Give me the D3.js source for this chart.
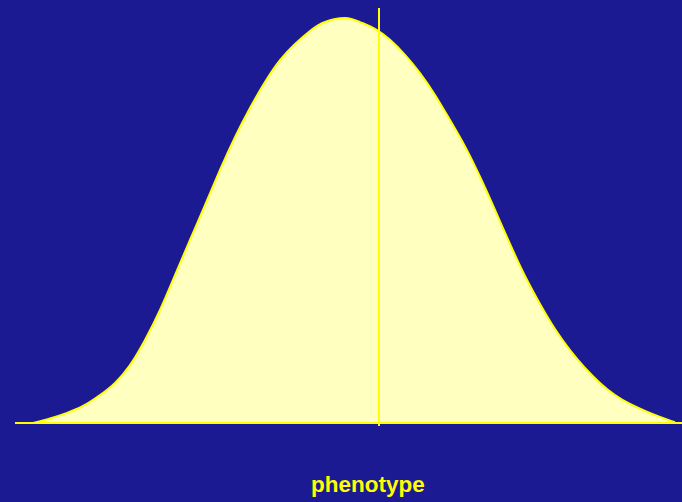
<!DOCTYPE html>
<html>
<head>
  <meta charset="utf-8">
  <title>phenotype</title>
  <style>
    body { margin: 0; background: #1b1a93; }
    .label {
      font-family: "Liberation Sans", Arial, sans-serif;
      font-weight: bold;
      font-size: 22.5px;
      fill: #ffff00;
      text-anchor: middle;
    }
  </style>
  <script src="https://d3js.org/d3.v7.min.js"></script>
</head>
<body>
  <script>
    // phenotype (SD units) and relative frequency
    var phenotype = [-3.12, -2.95, -2.78, -2.62, -2.45, -2.30, -2.15, -2.00, -1.85, -1.70, -1.55, -1.40,
      -1.25, -1.10, -0.95, -0.80, -0.65, -0.50, -0.35, -0.20, 0,
      0.15, 0.30, 0.45, 0.60, 0.75, 0.90, 1.05, 1.20, 1.35, 1.50, 1.65, 1.80, 1.95, 2.10,
      2.25, 2.40, 2.55, 2.70, 2.85, 3.00, 3.15, 3.30];
    var frequency = [0, 0.011, 0.025, 0.042, 0.069, 0.099, 0.143, 0.205, 0.279, 0.365, 0.452, 0.538,
      0.625, 0.706, 0.778, 0.842, 0.896, 0.936, 0.968, 0.990, 1.0,
      0.990, 0.973, 0.946, 0.909, 0.864, 0.810, 0.748, 0.683, 0.608, 0.526, 0.442, 0.363, 0.294, 0.232,
      0.180, 0.136, 0.099, 0.069, 0.047, 0.030, 0.015, 0.002];
    var markerX = 0.34;        // vertical line position
    var markerTop = 1.025;     // vertical line top (relative frequency)
    var xLabel = 'phenotype';

    var width = 682, height = 502;
    var svg = d3.select('body').append('svg')
      .attr('width', width)
      .attr('height', height);

    svg.append('rect')
      .attr('width', width).attr('height', height)
      .attr('fill', '#1b1a93');

    var xScale = d3.scaleLinear().domain([-3.3, 3.37]).range([15, 682]);
    var yScale = d3.scaleLinear().domain([0, 1]).range([423, 18]);

    var pts = phenotype.map(function(d, i) { return [d, frequency[i]]; });

    var area = d3.area()
      .x(function(d) { return xScale(d[0]); })
      .y0(yScale(0))
      .y1(function(d) { return yScale(d[1]); })
      .curve(d3.curveNatural);

    var line = d3.line()
      .x(function(d) { return xScale(d[0]); })
      .y(function(d) { return yScale(d[1]); })
      .curve(d3.curveNatural);

    svg.append('path')
      .datum(pts)
      .attr('d', area)
      .attr('fill', '#ffffc0');

    svg.append('path')
      .datum(pts)
      .attr('d', line)
      .attr('fill', 'none')
      .attr('stroke', '#ffff00')
      .attr('stroke-width', 2);

    // baseline
    svg.append('line')
      .attr('x1', xScale(-3.3)).attr('x2', xScale(3.37))
      .attr('y1', yScale(0)).attr('y2', yScale(0))
      .attr('stroke', '#ffff00')
      .attr('stroke-width', 2);

    // vertical marker
    svg.append('line')
      .attr('x1', xScale(markerX)).attr('x2', xScale(markerX))
      .attr('y1', yScale(markerTop)).attr('y2', yScale(0) + 3)
      .attr('stroke', '#ffff00')
      .attr('stroke-width', 2);

    svg.append('text')
      .attr('class', 'label')
      .attr('x', 368)
      .attr('y', 492)
      .text(xLabel);
  </script>
</body>
</html>
